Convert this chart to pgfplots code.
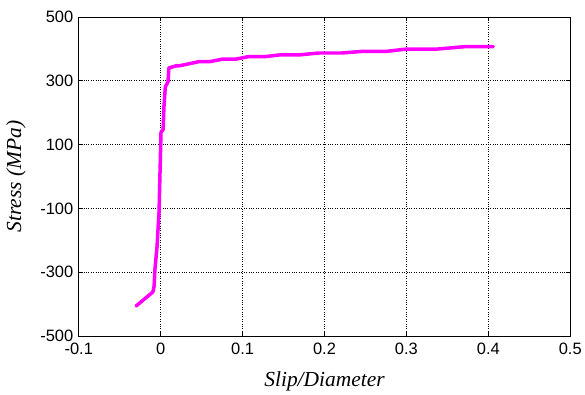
\documentclass[border=0pt]{standalone}
\usepackage{pgfplots}
\pgfplotsset{compat=1.18}
\usepackage{fontspec}
\setmainfont{Liberation Sans}
\newfontfamily\timesfont{Liberation Serif}
\begin{document}
\begin{tikzpicture}
\begin{axis}[
  scale only axis,
  width=493pt, height=320pt,
  xmin=-0.1, xmax=0.5, ymin=-500, ymax=500,
  xtick={-0.1,0,0.1,0.2,0.3,0.4,0.5},
  xticklabels={-0.1,0,0.1,0.2,0.3,0.4,0.5},
  ytick={-500,-300,-100,100,300,500},
  yticklabels={-500,-300,-100,100,300,500},
  grid=major,
  major grid style={black, dotted, line width=0.8pt},
  axis line style={black, line width=0.8pt},
  tick style={black, line width=0.6pt},
  tick align=inside,
  major tick length=4pt,
  ticklabel style={font=\fontsize{16.5}{18}\selectfont},
  xticklabel style={yshift=-4pt},
  yticklabel style={xshift=-2pt},
  xlabel={\timesfont\itshape Slip/Diameter},
  ylabel={\timesfont\itshape Stress (MPa)},
  label style={font=\fontsize{21.5}{24}\selectfont},
  xlabel style={at={(axis description cs:0.5,0)}, anchor=base, yshift=-51pt},
  ylabel style={at={(axis description cs:0,0.5)}, anchor=center, rotate=0, yshift=63pt},
  clip=false,
]
\addplot[color={rgb,255:red,255;green,0;blue,255}, line width=3.5pt, line join=round, line cap=round] coordinates {
(-0.030,-406) (-0.0095,-362) (-0.008,-344) (-0.007,-291) (-0.0045,-222)
(-0.002,-112) (0.0004,138) (0.003,147) (0.004,219) (0.0057,281)
(0.009,297) (0.010,340) (0.019,347) (0.023,347) (0.047,360) (0.060,360)
(0.076,368) (0.092,368) (0.108,376) (0.129,376) (0.145,381) (0.169,381)
(0.193,387) (0.221,387) (0.246,392) (0.275,392) (0.299,399) (0.336,399)
(0.372,407) (0.406,407)
};
\end{axis}
\path ([shift={(-79pt,-56pt)}]current axis.south west) rectangle ([shift={(13pt,17pt)}]current axis.north east);
\end{tikzpicture}
\end{document}
